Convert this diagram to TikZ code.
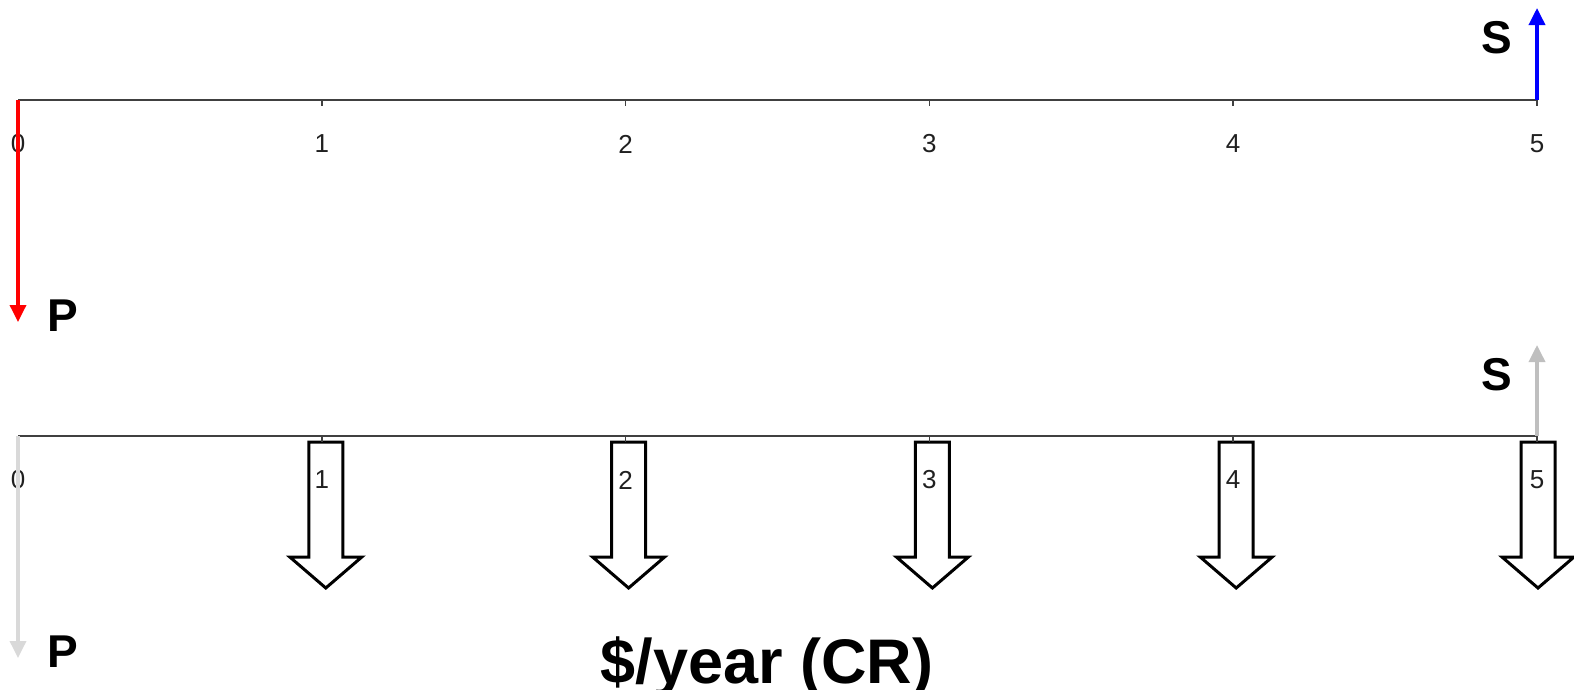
\documentclass[tikz,border=0pt]{standalone}
\usepackage{fontspec}
\setmainfont{Liberation Sans}
\usetikzlibrary{arrows.meta}
\definecolor{axisgray}{HTML}{404040}
\definecolor{numgray}{HTML}{202020}
\definecolor{sgray}{HTML}{BFBFBF}
\definecolor{pgray}{HTML}{D9D9D9}
\definecolor{flowred}{HTML}{FF0000}
\definecolor{flowblue}{HTML}{0000FF}
\begin{document}
\begin{tikzpicture}[x=1pt,y=-1pt,
  axis/.style={line width=2.2pt, draw=axisgray},
  tickmark/.style={line width=1.5pt, draw=axisgray},
  num/.style={font=\fontsize{26}{26}\selectfont, text=numgray, inner sep=0pt},
  big/.style={font=\fontsize{46}{46}\selectfont\bfseries, inner sep=0pt},
  flow/.style={line width=3.5pt, -{Triangle[width=16pt,length=17pt]}},
  crarrow/.style={line width=3pt, draw=black, fill=white, miter limit=10}]
\useasboundingbox (0,0) rectangle (1574,689);

% hollow arrows (drawn first, so ticks and numbers lie on top)
\foreach \i/\off in {1/4,2/3,3/3,4/3,5/1}{
  \pgfmathsetmacro{\cx}{18+303.8*\i+\off}
  \draw[crarrow] (\cx-17,442) -- (\cx+17,442) -- (\cx+17,557) -- (\cx+36,557)
     -- (\cx,588) -- (\cx-36,557) -- (\cx-17,557) -- cycle;
}

% axes
\coordinate (a0) at (18,100);
\coordinate (a5) at (1537,100);
\coordinate (b0) at (18,436);
\coordinate (b5) at (1537,436);
\draw[axis] (a0) -- (a5);
\draw[axis] (b0) -- (b5);

\foreach \i in {0,...,5}{
  \pgfmathsetmacro{\tx}{18+303.8*\i}
  \draw[tickmark] (\tx,100) -- (\tx,106);
  \draw[tickmark] (\tx,436) -- (\tx,442);
  \node[num] (tn\i) at (\tx,144) {\i};
  \node[num] (bn\i) at (\tx,480) {\i};
}

% top cash flows
\coordinate (pend) at (18,322);
\coordinate (send) at (1537,8);
\draw[flow, draw=flowred, fill=flowred] (a0) -- (pend);
\draw[flow, draw=flowblue, fill=flowblue] (a5) -- (send);
\node[big] (Ptop) at (63,316) {P};
\node[big] (Stop) at (1497,38) {S};

% bottom cash flows
\coordinate (pend2) at (18,658);
\coordinate (send2) at (1537,345);
\draw[flow, draw=pgray, fill=pgray] (b0) -- (pend2);
\draw[flow, draw=sgray, fill=sgray] (b5) -- (send2);
\node[big] (Pbot) at (63,652) {P};
\node[big] (Sbot) at (1497,375) {S};

\node[font=\fontsize{63}{63}\selectfont\bfseries, inner sep=0pt, anchor=base] (cr) at (767,683) {\$/year (CR)};
\end{tikzpicture}
\end{document}
